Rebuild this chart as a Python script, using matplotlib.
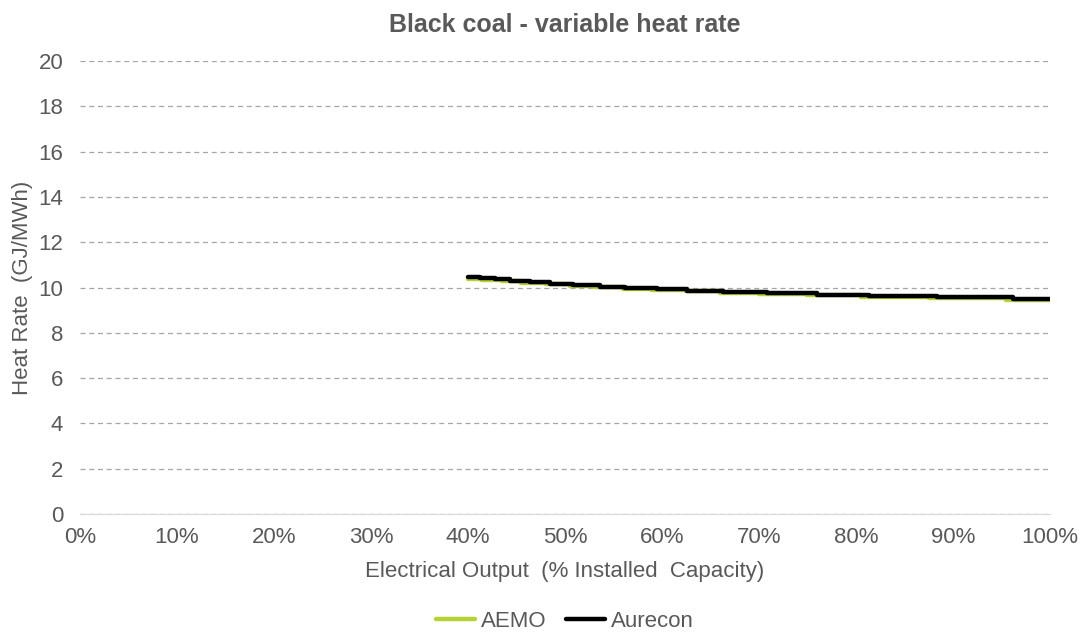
import matplotlib.pyplot as plt
from matplotlib.ticker import PercentFormatter

plt.rcParams['font.family'] = ['Liberation Sans', 'DejaVu Sans']

# Electrical output (% installed capacity) at each step and heat rate (GJ/MWh)
aurecon_x = [40.0, 41.2, 42.8, 44.3, 46.4, 48.5, 50.8, 53.6, 56.2, 59.5,
             62.6, 66.3, 70.8, 76.0, 81.4, 88.4, 96.2, 100.0]
aurecon_y = [10.48, 10.42, 10.36, 10.30, 10.24, 10.17, 10.10, 10.04, 9.98, 9.92,
             9.86, 9.80, 9.74, 9.68, 9.62, 9.56, 9.48, 9.48]

aemo_x = [40.0, 41.5, 43.5, 45.5, 48.0, 50.5, 53.0, 56.0, 59.0, 62.5,
          66.0, 70.0, 75.0, 80.5, 87.5, 95.5, 100.0]
aemo_y = [10.38, 10.33, 10.27, 10.21, 10.14, 10.07, 10.01, 9.95, 9.89, 9.83,
          9.77, 9.71, 9.65, 9.59, 9.53, 9.46, 9.46]

grey = '#595959'

fig = plt.figure(figsize=(10.89, 6.39), dpi=100)
ax = fig.add_axes([0.0735, 0.1956, 0.8905, 0.7089])

ax.step(aemo_x, aemo_y, where='post', color='#b5d334', lw=3.2, label='AEMO',
        solid_capstyle='round')
ax.step(aurecon_x, aurecon_y, where='post', color='black', lw=3.2, label='Aurecon',
        solid_capstyle='round')

ax.set_xlim(0, 100)
ax.set_ylim(0, 20)
ax.set_xticks(range(0, 101, 10))
ax.set_yticks(range(0, 21, 2))
ax.xaxis.set_major_formatter(PercentFormatter(decimals=0))
ax.tick_params(length=0, labelsize=16, colors=grey)
ax.tick_params(axis='x', pad=9)
ax.tick_params(axis='y', pad=12)

ax.yaxis.grid(True, linestyle=(0, (4, 3)), color='#a6a6a6', lw=0.9)
ax.set_axisbelow(True)
for side in ['top', 'right', 'left']:
    ax.spines[side].set_visible(False)
ax.spines['bottom'].set_color('#d9d9d9')

ax.set_title('Black coal - variable heat rate', fontsize=18, fontweight='bold',
             color=grey, pad=21)
ax.set_xlabel('Electrical Output  (% Installed  Capacity)', fontsize=16,
              color=grey, labelpad=10)
ax.set_ylabel('Heat Rate  (GJ/MWh)', fontsize=16, color=grey, labelpad=4)

leg = ax.legend(loc='upper center', bbox_to_anchor=(0.5, -0.195), ncol=2,
                frameon=False, fontsize=16, handlelength=1.75, handletextpad=0.27,
                columnspacing=0.9, borderaxespad=0)
for t in leg.get_texts():
    t.set_color(grey)

fig.savefig('out.png', dpi=100)
